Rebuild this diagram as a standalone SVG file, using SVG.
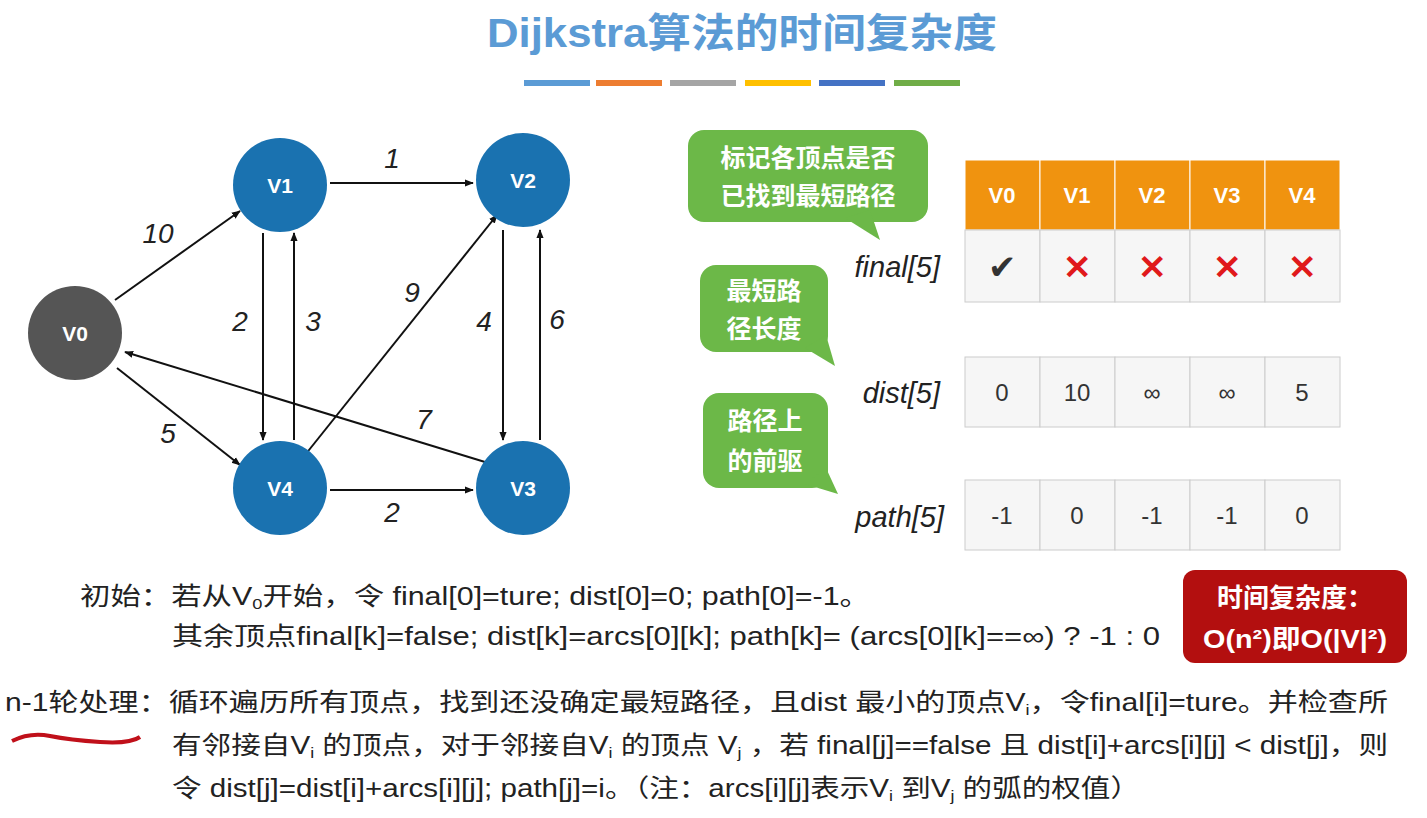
<svg xmlns="http://www.w3.org/2000/svg" width="1427" height="818" viewBox="0 0 1427 818">
<defs>
<marker id="ah" viewBox="0 0 10 10" refX="9" refY="5" markerWidth="9" markerHeight="9" orient="auto" markerUnits="userSpaceOnUse"><path d="M0,1 L10,5 L0,9 z" fill="#111"/></marker>
</defs>
<style>
text{font-family:"Liberation Sans","Noto Sans CJK SC",sans-serif}
.node{fill:#1a72b0}
.nt{fill:#fff;font-size:21px;font-weight:bold;text-anchor:middle}
.e{stroke:#111;stroke-width:2;fill:none;marker-end:url(#ah)}
.el{font-size:28px;font-style:italic;fill:#222;text-anchor:middle}
.hd{fill:#f0930f;stroke:#fff;stroke-width:1}
.cell{fill:#f6f6f6;stroke:#ccc;stroke-width:1}
.ht{fill:#fff;font-size:22px;font-weight:bold;text-anchor:middle}
.ct{fill:#333;font-size:24px;text-anchor:middle}
.lab{font-size:29px;font-style:italic;fill:#222;text-anchor:end}
.bub{fill:#6cb848}
.bt{fill:#fff;font-size:25px;font-weight:bold;text-anchor:middle}
.x{fill:#e0191b;font-size:34px;font-weight:bold;text-anchor:middle}
.tx{font-size:25px;fill:#222}
</style>
<rect width="1427" height="818" fill="#fff"/>
<text x="742" y="47" font-size="40" font-weight="bold" fill="#5b9bd5" text-anchor="middle" textLength="510" lengthAdjust="spacingAndGlyphs">Dijkstra算法的时间复杂度</text>
<rect x="524" y="80" width="66" height="6" fill="#5b9bd5"/>
<rect x="596" y="80" width="66" height="6" fill="#ed7d31"/>
<rect x="670" y="80" width="66" height="6" fill="#a5a5a5"/>
<rect x="745" y="80" width="66" height="6" fill="#ffc000"/>
<rect x="819" y="80" width="66" height="6" fill="#4472c4"/>
<rect x="894" y="80" width="66" height="6" fill="#70ad47"/>
<g id="connectors">
<line class="e" x1="330" y1="183" x2="473" y2="183"/>
<line class="e" x1="115" y1="300" x2="240" y2="211"/>
<line class="e" x1="263" y1="233" x2="263" y2="440"/>
<line class="e" x1="294" y1="440" x2="294" y2="233"/>
<line class="e" x1="305" y1="455" x2="497" y2="215"/>
<line class="e" x1="503" y1="230" x2="503" y2="440"/>
<line class="e" x1="540" y1="440" x2="540" y2="230"/>
<line class="e" x1="485" y1="462" x2="125" y2="352"/>
<line class="e" x1="117" y1="368" x2="240" y2="465"/>
<line class="e" x1="330" y1="490" x2="473" y2="490"/>
<text class="el" x="392" y="168">1</text>
<text class="el" x="158" y="243">10</text>
<text class="el" x="240" y="331">2</text>
<text class="el" x="313" y="331">3</text>
<text class="el" x="412" y="302">9</text>
<text class="el" x="484" y="331">4</text>
<text class="el" x="557" y="329">6</text>
<text class="el" x="424" y="429">7</text>
<text class="el" x="168" y="443">5</text>
<text class="el" x="392" y="522">2</text>
</g>
<g id="V0"><circle cx="75" cy="333" r="47" fill="#555"/><text class="nt" x="75" y="341">V0</text></g>
<g id="V1"><circle class="node" cx="280" cy="185" r="47"/><text class="nt" x="280" y="193">V1</text></g>
<g id="V2"><circle class="node" cx="523" cy="180" r="47"/><text class="nt" x="523" y="188">V2</text></g>
<g id="V4"><circle class="node" cx="280" cy="488" r="47"/><text class="nt" x="280" y="496">V4</text></g>
<g id="V3"><circle class="node" cx="523" cy="488" r="47"/><text class="nt" x="523" y="496">V3</text></g>
<g id="table">
<rect class="hd" x="965" y="160" width="75" height="70"/><rect class="hd" x="1040" y="160" width="75" height="70"/><rect class="hd" x="1115" y="160" width="75" height="70"/><rect class="hd" x="1190" y="160" width="75" height="70"/><rect class="hd" x="1265" y="160" width="75" height="70"/>
<text class="ht" x="1002" y="203">V0</text><text class="ht" x="1077" y="203">V1</text><text class="ht" x="1152" y="203">V2</text><text class="ht" x="1227" y="203">V3</text><text class="ht" x="1302" y="203">V4</text>
<rect class="cell" x="965" y="230" width="75" height="72"/><rect class="cell" x="1040" y="230" width="75" height="72"/><rect class="cell" x="1115" y="230" width="75" height="72"/><rect class="cell" x="1190" y="230" width="75" height="72"/><rect class="cell" x="1265" y="230" width="75" height="72"/>
<text x="1002" y="279" font-size="34" fill="#333" text-anchor="middle" font-family="DejaVu Sans">✔</text>
<text class="x" x="1077" y="279">✕</text><text class="x" x="1152" y="279">✕</text><text class="x" x="1227" y="279">✕</text><text class="x" x="1302" y="279">✕</text>
<rect class="cell" x="965" y="357" width="75" height="70"/><rect class="cell" x="1040" y="357" width="75" height="70"/><rect class="cell" x="1115" y="357" width="75" height="70"/><rect class="cell" x="1190" y="357" width="75" height="70"/><rect class="cell" x="1265" y="357" width="75" height="70"/>
<text class="ct" x="1002" y="401">0</text><text class="ct" x="1077" y="401">10</text><text class="ct" x="1152" y="401">∞</text><text class="ct" x="1227" y="401">∞</text><text class="ct" x="1302" y="401">5</text>
<rect class="cell" x="965" y="480" width="75" height="70"/><rect class="cell" x="1040" y="480" width="75" height="70"/><rect class="cell" x="1115" y="480" width="75" height="70"/><rect class="cell" x="1190" y="480" width="75" height="70"/><rect class="cell" x="1265" y="480" width="75" height="70"/>
<text class="ct" x="1002" y="524">-1</text><text class="ct" x="1077" y="524">0</text><text class="ct" x="1152" y="524">-1</text><text class="ct" x="1227" y="524">-1</text><text class="ct" x="1302" y="524">0</text>
<text class="lab" x="940" y="277">final[5]</text>
<text class="lab" x="940" y="403">dist[5]</text>
<text class="lab" x="944" y="527">path[5]</text>
</g>
<g id="bubble1"><rect class="bub" x="688" y="130" width="240" height="92" rx="16"/><path class="bub" d="M845,218 L880,240 L870,210 z"/><text class="bt" x="808" y="167">标记各顶点是否</text><text class="bt" x="808" y="205">已找到最短路径</text></g>
<g id="bubble2"><rect class="bub" x="700" y="265" width="128" height="87" rx="16"/><path class="bub" d="M805,348 L835,366 L826,335 z"/><text class="bt" x="764" y="300">最短路</text><text class="bt" x="764" y="338">径长度</text></g>
<g id="bubble3"><rect class="bub" x="703" y="393" width="125" height="95" rx="16"/><path class="bub" d="M805,484 L838,494 L826,468 z"/><text class="bt" x="765" y="430">路径上</text><text class="bt" x="765" y="470">的前驱</text></g>
<g id="complexity"><rect x="1183" y="570" width="224" height="93" rx="12" fill="#b30f0f"/><text x="1295" y="607" font-size="26" font-weight="bold" fill="#fff" text-anchor="middle">时间复杂度：</text><text x="1295" y="648" font-size="26" font-weight="bold" fill="#fff" text-anchor="middle" textLength="184" lengthAdjust="spacingAndGlyphs">O(n²)即O(|V|²)</text></g>
<g id="text">
<text class="tx" x="80" y="605" textLength="790" lengthAdjust="spacingAndGlyphs">初始：若从V<tspan font-size="15" dy="4">0</tspan><tspan dy="-4">开始，令 final[0]=ture; dist[0]=0; path[0]=-1。</tspan></text>
<text class="tx" x="172" y="645" textLength="988" lengthAdjust="spacingAndGlyphs">其余顶点final[k]=false;  dist[k]=arcs[0][k]; path[k]= (arcs[0][k]==∞) ? -1 : 0</text>
<text class="tx" x="5" y="711" textLength="1383" lengthAdjust="spacingAndGlyphs">n-1轮处理：循环遍历所有顶点，找到还没确定最短路径，且dist 最小的顶点V<tspan font-size="15" dy="4">i</tspan><tspan dy="-4">，令final[i]=ture。并检查所</tspan></text>
<text class="tx" x="172" y="754" textLength="1216" lengthAdjust="spacingAndGlyphs">有邻接自V<tspan font-size="15" dy="4">i</tspan><tspan dy="-4"> 的顶点，对于邻接自V</tspan><tspan font-size="15" dy="4">i</tspan><tspan dy="-4"> 的顶点 V</tspan><tspan font-size="15" dy="4">j</tspan><tspan dy="-4"> ，若 final[j]==false 且 dist[i]+arcs[i][j] &lt; dist[j]，则</tspan></text>
<text class="tx" x="172" y="797" textLength="968" lengthAdjust="spacingAndGlyphs">令 dist[j]=dist[i]+arcs[i][j]; path[j]=i。（注：arcs[i][j]表示V<tspan font-size="15" dy="4">i</tspan><tspan dy="-4"> 到V</tspan><tspan font-size="15" dy="4">j</tspan><tspan dy="-4"> 的弧的权值）</tspan></text>
<path d="M12,741 Q30,732 50,736 T100,742 T140,737" stroke="#c0101a" stroke-width="4" fill="none"/>
</g>
</svg>
